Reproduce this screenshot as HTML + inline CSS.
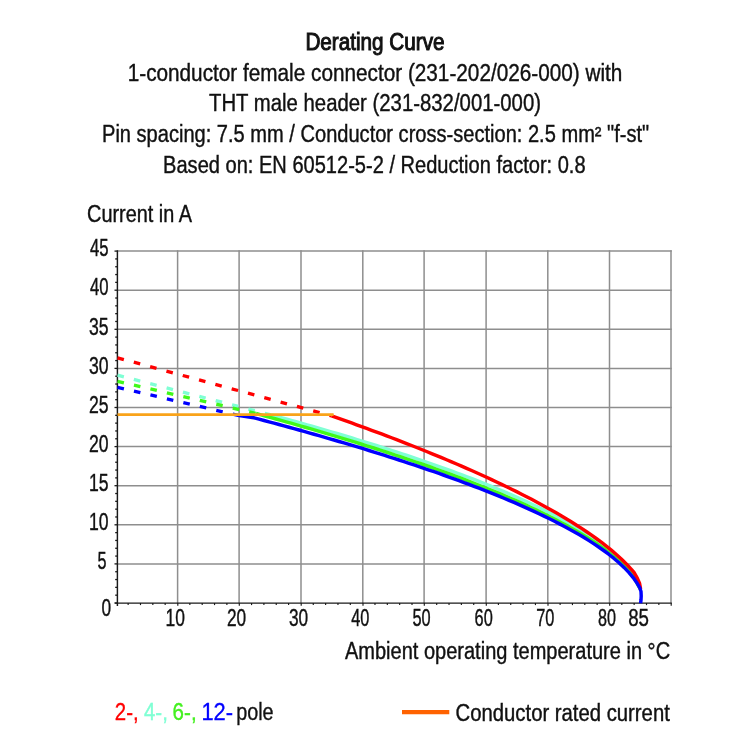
<!DOCTYPE html><html><head><meta charset="utf-8"><style>html,body{margin:0;padding:0;background:#fff;}svg{display:block;will-change:transform;}</style></head><body>
<svg width="750" height="750" viewBox="0 0 750 750" font-family="'Liberation Sans', sans-serif">
<rect width="750" height="750" fill="#fff"/>
<line x1="177.6" y1="250.3" x2="177.6" y2="603" stroke="#8e8e8e" stroke-width="1.5"/>
<line x1="239.1" y1="250.3" x2="239.1" y2="603" stroke="#8e8e8e" stroke-width="1.5"/>
<line x1="301.0" y1="250.3" x2="301.0" y2="603" stroke="#8e8e8e" stroke-width="1.5"/>
<line x1="362.8" y1="250.3" x2="362.8" y2="603" stroke="#8e8e8e" stroke-width="1.5"/>
<line x1="424.1" y1="250.3" x2="424.1" y2="603" stroke="#8e8e8e" stroke-width="1.5"/>
<line x1="486.1" y1="250.3" x2="486.1" y2="603" stroke="#8e8e8e" stroke-width="1.5"/>
<line x1="547.8" y1="250.3" x2="547.8" y2="603" stroke="#8e8e8e" stroke-width="1.5"/>
<line x1="609.5" y1="250.3" x2="609.5" y2="603" stroke="#8e8e8e" stroke-width="1.5"/>
<line x1="671.0" y1="250.3" x2="671.0" y2="603" stroke="#8e8e8e" stroke-width="1.5"/>
<line x1="117.5" y1="563.90" x2="671.75" y2="563.90" stroke="#8e8e8e" stroke-width="1.5"/>
<line x1="117.5" y1="524.80" x2="671.75" y2="524.80" stroke="#8e8e8e" stroke-width="1.5"/>
<line x1="117.5" y1="485.70" x2="671.75" y2="485.70" stroke="#8e8e8e" stroke-width="1.5"/>
<line x1="117.5" y1="446.60" x2="671.75" y2="446.60" stroke="#8e8e8e" stroke-width="1.5"/>
<line x1="117.5" y1="407.50" x2="671.75" y2="407.50" stroke="#8e8e8e" stroke-width="1.5"/>
<line x1="117.5" y1="368.40" x2="671.75" y2="368.40" stroke="#8e8e8e" stroke-width="1.5"/>
<line x1="117.5" y1="329.30" x2="671.75" y2="329.30" stroke="#8e8e8e" stroke-width="1.5"/>
<line x1="117.5" y1="290.20" x2="671.75" y2="290.20" stroke="#8e8e8e" stroke-width="1.5"/>
<line x1="117.5" y1="251.10" x2="671.75" y2="251.10" stroke="#8e8e8e" stroke-width="1.5"/>
<line x1="114.50" y1="603.00" x2="117.5" y2="603.00" stroke="#1a1a1a" stroke-width="1.3"/>
<line x1="115.20" y1="595.18" x2="117.5" y2="595.18" stroke="#1a1a1a" stroke-width="1.3"/>
<line x1="115.20" y1="587.36" x2="117.5" y2="587.36" stroke="#1a1a1a" stroke-width="1.3"/>
<line x1="115.20" y1="579.54" x2="117.5" y2="579.54" stroke="#1a1a1a" stroke-width="1.3"/>
<line x1="115.20" y1="571.72" x2="117.5" y2="571.72" stroke="#1a1a1a" stroke-width="1.3"/>
<line x1="114.50" y1="563.90" x2="117.5" y2="563.90" stroke="#1a1a1a" stroke-width="1.3"/>
<line x1="115.20" y1="556.08" x2="117.5" y2="556.08" stroke="#1a1a1a" stroke-width="1.3"/>
<line x1="115.20" y1="548.26" x2="117.5" y2="548.26" stroke="#1a1a1a" stroke-width="1.3"/>
<line x1="115.20" y1="540.44" x2="117.5" y2="540.44" stroke="#1a1a1a" stroke-width="1.3"/>
<line x1="115.20" y1="532.62" x2="117.5" y2="532.62" stroke="#1a1a1a" stroke-width="1.3"/>
<line x1="114.50" y1="524.80" x2="117.5" y2="524.80" stroke="#1a1a1a" stroke-width="1.3"/>
<line x1="115.20" y1="516.98" x2="117.5" y2="516.98" stroke="#1a1a1a" stroke-width="1.3"/>
<line x1="115.20" y1="509.16" x2="117.5" y2="509.16" stroke="#1a1a1a" stroke-width="1.3"/>
<line x1="115.20" y1="501.34" x2="117.5" y2="501.34" stroke="#1a1a1a" stroke-width="1.3"/>
<line x1="115.20" y1="493.52" x2="117.5" y2="493.52" stroke="#1a1a1a" stroke-width="1.3"/>
<line x1="114.50" y1="485.70" x2="117.5" y2="485.70" stroke="#1a1a1a" stroke-width="1.3"/>
<line x1="115.20" y1="477.88" x2="117.5" y2="477.88" stroke="#1a1a1a" stroke-width="1.3"/>
<line x1="115.20" y1="470.06" x2="117.5" y2="470.06" stroke="#1a1a1a" stroke-width="1.3"/>
<line x1="115.20" y1="462.24" x2="117.5" y2="462.24" stroke="#1a1a1a" stroke-width="1.3"/>
<line x1="115.20" y1="454.42" x2="117.5" y2="454.42" stroke="#1a1a1a" stroke-width="1.3"/>
<line x1="114.50" y1="446.60" x2="117.5" y2="446.60" stroke="#1a1a1a" stroke-width="1.3"/>
<line x1="115.20" y1="438.78" x2="117.5" y2="438.78" stroke="#1a1a1a" stroke-width="1.3"/>
<line x1="115.20" y1="430.96" x2="117.5" y2="430.96" stroke="#1a1a1a" stroke-width="1.3"/>
<line x1="115.20" y1="423.14" x2="117.5" y2="423.14" stroke="#1a1a1a" stroke-width="1.3"/>
<line x1="115.20" y1="415.32" x2="117.5" y2="415.32" stroke="#1a1a1a" stroke-width="1.3"/>
<line x1="114.50" y1="407.50" x2="117.5" y2="407.50" stroke="#1a1a1a" stroke-width="1.3"/>
<line x1="115.20" y1="399.68" x2="117.5" y2="399.68" stroke="#1a1a1a" stroke-width="1.3"/>
<line x1="115.20" y1="391.86" x2="117.5" y2="391.86" stroke="#1a1a1a" stroke-width="1.3"/>
<line x1="115.20" y1="384.04" x2="117.5" y2="384.04" stroke="#1a1a1a" stroke-width="1.3"/>
<line x1="115.20" y1="376.22" x2="117.5" y2="376.22" stroke="#1a1a1a" stroke-width="1.3"/>
<line x1="114.50" y1="368.40" x2="117.5" y2="368.40" stroke="#1a1a1a" stroke-width="1.3"/>
<line x1="115.20" y1="360.58" x2="117.5" y2="360.58" stroke="#1a1a1a" stroke-width="1.3"/>
<line x1="115.20" y1="352.76" x2="117.5" y2="352.76" stroke="#1a1a1a" stroke-width="1.3"/>
<line x1="115.20" y1="344.94" x2="117.5" y2="344.94" stroke="#1a1a1a" stroke-width="1.3"/>
<line x1="115.20" y1="337.12" x2="117.5" y2="337.12" stroke="#1a1a1a" stroke-width="1.3"/>
<line x1="114.50" y1="329.30" x2="117.5" y2="329.30" stroke="#1a1a1a" stroke-width="1.3"/>
<line x1="115.20" y1="321.48" x2="117.5" y2="321.48" stroke="#1a1a1a" stroke-width="1.3"/>
<line x1="115.20" y1="313.66" x2="117.5" y2="313.66" stroke="#1a1a1a" stroke-width="1.3"/>
<line x1="115.20" y1="305.84" x2="117.5" y2="305.84" stroke="#1a1a1a" stroke-width="1.3"/>
<line x1="115.20" y1="298.02" x2="117.5" y2="298.02" stroke="#1a1a1a" stroke-width="1.3"/>
<line x1="114.50" y1="290.20" x2="117.5" y2="290.20" stroke="#1a1a1a" stroke-width="1.3"/>
<line x1="115.20" y1="282.38" x2="117.5" y2="282.38" stroke="#1a1a1a" stroke-width="1.3"/>
<line x1="115.20" y1="274.56" x2="117.5" y2="274.56" stroke="#1a1a1a" stroke-width="1.3"/>
<line x1="115.20" y1="266.74" x2="117.5" y2="266.74" stroke="#1a1a1a" stroke-width="1.3"/>
<line x1="115.20" y1="258.92" x2="117.5" y2="258.92" stroke="#1a1a1a" stroke-width="1.3"/>
<line x1="114.50" y1="251.10" x2="117.5" y2="251.10" stroke="#1a1a1a" stroke-width="1.3"/>
<line x1="128.14" y1="603" x2="128.14" y2="605.10" stroke="#1a1a1a" stroke-width="1.15"/>
<line x1="140.48" y1="603" x2="140.48" y2="605.10" stroke="#1a1a1a" stroke-width="1.15"/>
<line x1="152.83" y1="603" x2="152.83" y2="605.10" stroke="#1a1a1a" stroke-width="1.15"/>
<line x1="165.17" y1="603" x2="165.17" y2="605.10" stroke="#1a1a1a" stroke-width="1.15"/>
<line x1="177.80" y1="603" x2="177.80" y2="605.70" stroke="#1a1a1a" stroke-width="1.15"/>
<line x1="189.85" y1="603" x2="189.85" y2="605.10" stroke="#1a1a1a" stroke-width="1.15"/>
<line x1="202.19" y1="603" x2="202.19" y2="605.10" stroke="#1a1a1a" stroke-width="1.15"/>
<line x1="214.54" y1="603" x2="214.54" y2="605.10" stroke="#1a1a1a" stroke-width="1.15"/>
<line x1="226.88" y1="603" x2="226.88" y2="605.10" stroke="#1a1a1a" stroke-width="1.15"/>
<line x1="239.30" y1="603" x2="239.30" y2="605.70" stroke="#1a1a1a" stroke-width="1.15"/>
<line x1="251.56" y1="603" x2="251.56" y2="605.10" stroke="#1a1a1a" stroke-width="1.15"/>
<line x1="263.90" y1="603" x2="263.90" y2="605.10" stroke="#1a1a1a" stroke-width="1.15"/>
<line x1="276.25" y1="603" x2="276.25" y2="605.10" stroke="#1a1a1a" stroke-width="1.15"/>
<line x1="288.59" y1="603" x2="288.59" y2="605.10" stroke="#1a1a1a" stroke-width="1.15"/>
<line x1="301.20" y1="603" x2="301.20" y2="605.70" stroke="#1a1a1a" stroke-width="1.15"/>
<line x1="313.27" y1="603" x2="313.27" y2="605.10" stroke="#1a1a1a" stroke-width="1.15"/>
<line x1="325.61" y1="603" x2="325.61" y2="605.10" stroke="#1a1a1a" stroke-width="1.15"/>
<line x1="337.96" y1="603" x2="337.96" y2="605.10" stroke="#1a1a1a" stroke-width="1.15"/>
<line x1="350.30" y1="603" x2="350.30" y2="605.10" stroke="#1a1a1a" stroke-width="1.15"/>
<line x1="363.00" y1="603" x2="363.00" y2="605.70" stroke="#1a1a1a" stroke-width="1.15"/>
<line x1="374.98" y1="603" x2="374.98" y2="605.10" stroke="#1a1a1a" stroke-width="1.15"/>
<line x1="387.32" y1="603" x2="387.32" y2="605.10" stroke="#1a1a1a" stroke-width="1.15"/>
<line x1="399.67" y1="603" x2="399.67" y2="605.10" stroke="#1a1a1a" stroke-width="1.15"/>
<line x1="412.01" y1="603" x2="412.01" y2="605.10" stroke="#1a1a1a" stroke-width="1.15"/>
<line x1="424.30" y1="603" x2="424.30" y2="605.70" stroke="#1a1a1a" stroke-width="1.15"/>
<line x1="436.69" y1="603" x2="436.69" y2="605.10" stroke="#1a1a1a" stroke-width="1.15"/>
<line x1="449.03" y1="603" x2="449.03" y2="605.10" stroke="#1a1a1a" stroke-width="1.15"/>
<line x1="461.38" y1="603" x2="461.38" y2="605.10" stroke="#1a1a1a" stroke-width="1.15"/>
<line x1="473.72" y1="603" x2="473.72" y2="605.10" stroke="#1a1a1a" stroke-width="1.15"/>
<line x1="486.30" y1="603" x2="486.30" y2="605.70" stroke="#1a1a1a" stroke-width="1.15"/>
<line x1="498.40" y1="603" x2="498.40" y2="605.10" stroke="#1a1a1a" stroke-width="1.15"/>
<line x1="510.74" y1="603" x2="510.74" y2="605.10" stroke="#1a1a1a" stroke-width="1.15"/>
<line x1="523.09" y1="603" x2="523.09" y2="605.10" stroke="#1a1a1a" stroke-width="1.15"/>
<line x1="535.43" y1="603" x2="535.43" y2="605.10" stroke="#1a1a1a" stroke-width="1.15"/>
<line x1="548.00" y1="603" x2="548.00" y2="605.70" stroke="#1a1a1a" stroke-width="1.15"/>
<line x1="560.11" y1="603" x2="560.11" y2="605.10" stroke="#1a1a1a" stroke-width="1.15"/>
<line x1="572.45" y1="603" x2="572.45" y2="605.10" stroke="#1a1a1a" stroke-width="1.15"/>
<line x1="584.80" y1="603" x2="584.80" y2="605.10" stroke="#1a1a1a" stroke-width="1.15"/>
<line x1="597.14" y1="603" x2="597.14" y2="605.10" stroke="#1a1a1a" stroke-width="1.15"/>
<line x1="609.70" y1="603" x2="609.70" y2="605.70" stroke="#1a1a1a" stroke-width="1.15"/>
<line x1="621.82" y1="603" x2="621.82" y2="605.10" stroke="#1a1a1a" stroke-width="1.15"/>
<line x1="634.16" y1="603" x2="634.16" y2="605.10" stroke="#1a1a1a" stroke-width="1.15"/>
<line x1="646.51" y1="603" x2="646.51" y2="605.10" stroke="#1a1a1a" stroke-width="1.15"/>
<line x1="658.85" y1="603" x2="658.85" y2="605.10" stroke="#1a1a1a" stroke-width="1.15"/>
<line x1="671.20" y1="603" x2="671.20" y2="605.70" stroke="#1a1a1a" stroke-width="1.15"/>
<line x1="117.4" y1="250.3" x2="117.4" y2="606" stroke="#1a1a1a" stroke-width="1.45"/>
<line x1="114.8" y1="603.1" x2="671.75" y2="603.1" stroke="#1a1a1a" stroke-width="1.45"/>
<line x1="117.5" y1="375.2" x2="272" y2="415.14" stroke="#80FFD4" stroke-width="3.35" stroke-dasharray="6.6 10.3" stroke-dashoffset="0" stroke-linecap="butt"/>
<line x1="117.5" y1="381.3" x2="256" y2="413.48" stroke="#40F81A" stroke-width="3.35" stroke-dasharray="6.6 10.3" stroke-dashoffset="0" stroke-linecap="butt"/>
<line x1="117.5" y1="357.8" x2="331.6" y2="415.87" stroke="#FF0000" stroke-width="3.35" stroke-dasharray="6.6 10.3" stroke-dashoffset="0" stroke-linecap="butt"/>
<line x1="117.5" y1="387.3" x2="239.2" y2="415.6" stroke="#0000FF" stroke-width="3.35" stroke-dasharray="6.6 10.3" stroke-dashoffset="0" stroke-linecap="butt"/>
<polyline points="272,415.14 277,416.5 282,417.86 287,419.24 292,420.62 297,422.02 302,423.42 307,424.83 312,426.25 317,427.68 322,429.13 327,430.58 332,432.04 337,433.52 342,435.0 347,436.5 352,438.01 357,439.53 362,441.06 367,442.6 372,444.16 377,445.73 382,447.32 387,448.92 392,450.53 397,452.16 402,453.8 407,455.46 412,457.14 417,458.83 422,460.54 427,462.27 432,464.01 437,465.78 442,467.56 447,469.37 452,471.19 457,473.04 462,474.91 467,476.81 472,478.73 477,480.67 482,482.64 487,484.65 492,486.68 497,488.74 502,490.83 507,492.96 512,495.13 517,497.33 522,499.57 527,501.86 532,504.19 537,506.57 542,509.0 547,511.48 552,514.03 557,516.64 562,519.32 567,522.08 572,524.92 577,527.85 582,530.88 587,534.03 592,537.3 597,540.73 602,544.32 607,548.12 612,552.15 617,556.48 622,561.19 627,566.42 632,572.38 634,575.06 638,585 640.3,589" fill="none" stroke="#80FFD4" stroke-width="3.45" stroke-linejoin="round" stroke-linecap="butt"/>
<polyline points="256,413.48 261,414.85 266,416.22 271,417.6 276,418.99 281,420.39 286,421.79 291,423.21 296,424.63 301,426.06 306,427.5 311,428.95 316,430.41 321,431.88 326,433.36 331,434.85 336,436.35 341,437.86 346,439.38 351,440.92 356,442.46 361,444.02 366,445.59 371,447.17 376,448.76 381,450.37 386,451.99 391,453.63 396,455.27 401,456.94 406,458.62 411,460.31 416,462.02 421,463.75 426,465.49 431,467.25 436,469.03 441,470.83 446,472.65 451,474.49 456,476.34 461,478.23 466,480.13 471,482.06 476,484.01 481,485.99 486,487.99 491,490.02 496,492.08 501,494.17 506,496.3 511,498.46 516,500.65 521,502.88 526,505.15 531,507.47 536,509.83 541,512.23 546,514.69 551,517.21 556,519.78 561,522.42 566,525.13 571,527.91 576,530.78 581,533.74 586,536.8 591,539.98 596,543.3 601,546.76 606,550.41 611,554.26 616,558.37 621,562.8 626,567.66 631,573.12 634,576.81 637.5,584 640.2,589" fill="none" stroke="#40F81A" stroke-width="3.45" stroke-linejoin="round" stroke-linecap="butt"/>
<polyline points="331.6,415.87 336.6,417.62 341.6,419.39 346.6,421.17 351.6,422.96 356.6,424.77 361.6,426.58 366.6,428.41 371.6,430.26 376.6,432.11 381.6,433.98 386.6,435.87 391.6,437.76 396.6,439.68 401.6,441.61 406.6,443.55 411.6,445.51 416.6,447.49 421.6,449.49 426.6,451.5 431.6,453.53 436.6,455.58 441.6,457.66 446.6,459.75 451.6,461.86 456.6,463.99 461.6,466.15 466.6,468.33 471.6,470.53 476.6,472.76 481.6,475.02 486.6,477.3 491.6,479.62 496.6,481.96 501.6,484.33 506.6,486.74 511.6,489.18 516.6,491.66 521.6,494.17 526.6,496.73 531.6,499.33 536.6,501.97 541.6,504.67 546.6,507.41 551.6,510.21 556.6,513.07 561.6,515.99 566.6,518.98 571.6,522.04 576.6,525.19 581.6,528.42 586.6,531.75 591.6,535.2 596.6,538.77 601.6,542.47 606.6,546.35 611.6,550.41 616.6,554.69 621.6,559.26 626.6,564.18 631.6,569.56 634,572.37 637.4,578.4 639.6,583.5 640.6,589" fill="none" stroke="#FF0000" stroke-width="3.45" stroke-linejoin="round" stroke-linecap="butt"/>
<polyline points="239.2,415.6 249,417.0 254,417.81 259,419.13 264,420.47 269,421.81 274,423.15 279,424.51 284,425.87 289,427.25 294,428.63 299,430.02 304,431.41 309,432.82 314,434.24 319,435.67 324,437.1 329,438.55 334,440.01 339,441.47 344,442.95 349,444.44 354,445.94 359,447.45 364,448.97 369,450.51 374,452.06 379,453.62 384,455.19 389,456.78 394,458.38 399,460.0 404,461.63 409,463.27 414,464.93 419,466.61 424,468.3 429,470.01 434,471.74 439,473.49 444,475.25 449,477.04 454,478.85 459,480.67 464,482.52 469,484.39 474,486.29 479,488.21 484,490.16 489,492.13 494,494.13 499,496.17 504,498.23 509,500.33 514,502.46 519,504.63 524,506.83 529,509.08 534,511.37 539,513.71 544,516.1 549,518.54 554,521.04 559,523.6 564,526.23 569,528.93 574,531.72 579,534.59 584,537.57 589,540.65 594,543.86 599,547.22 604,550.75 609,554.48 614,558.45 619,562.73 624,567.41 629,572.64 634,578.72 636.6,582.41 639.8,587.9 641,591.5 641.2,596 641,600 640.6,603.3" fill="none" stroke="#0000FF" stroke-width="3.45" stroke-linejoin="round" stroke-linecap="butt"/>
<line x1="117.5" y1="414.65" x2="333.6" y2="414.65" stroke="#F9A31A" stroke-width="2.6"/>
<text x="305.40" y="50.0" font-size="23" font-weight="normal" fill="#111" stroke="#111" stroke-width="1.0" textLength="139.20" lengthAdjust="spacingAndGlyphs">Derating Curve</text>
<text x="127.70" y="80.8" font-size="23" font-weight="normal" fill="#111" stroke="#111" stroke-width="0.4" textLength="494.70" lengthAdjust="spacingAndGlyphs">1-conductor female connector (231-202/026-000) with</text>
<text x="209.00" y="111.0" font-size="23" font-weight="normal" fill="#111" stroke="#111" stroke-width="0.4" textLength="332.00" lengthAdjust="spacingAndGlyphs">THT male header (231-832/001-000)</text>
<text x="102.00" y="142.2" font-size="23" font-weight="normal" fill="#111" stroke="#111" stroke-width="0.4" textLength="547.20" lengthAdjust="spacingAndGlyphs">Pin spacing: 7.5 mm / Conductor cross-section: 2.5 mm² "f-st"</text>
<text x="163.10" y="172.5" font-size="23" font-weight="normal" fill="#111" stroke="#111" stroke-width="0.4" textLength="422.50" lengthAdjust="spacingAndGlyphs">Based on: EN 60512-5-2 / Reduction factor: 0.8</text>
<text x="87.10" y="222.1" font-size="23" font-weight="normal" fill="#111" stroke="#111" stroke-width="0.4" textLength="104.90" lengthAdjust="spacingAndGlyphs">Current in A</text>
<text x="344.90" y="658.7" font-size="23" font-weight="normal" fill="#111" stroke="#111" stroke-width="0.4" textLength="325.20" lengthAdjust="spacingAndGlyphs">Ambient operating temperature in °C</text>
<text x="455.60" y="720.5" font-size="23" font-weight="normal" fill="#111" stroke="#111" stroke-width="0.4" textLength="214.20" lengthAdjust="spacingAndGlyphs">Conductor rated current</text>
<text x="97.40" y="569.10" font-size="23" fill="#111" stroke="#111" stroke-width="0.4" textLength="9.00" lengthAdjust="spacingAndGlyphs">5</text>
<text x="89.00" y="530.00" font-size="23" fill="#111" stroke="#111" stroke-width="0.4" textLength="19.60" lengthAdjust="spacingAndGlyphs">10</text>
<text x="89.00" y="490.90" font-size="23" fill="#111" stroke="#111" stroke-width="0.4" textLength="19.60" lengthAdjust="spacingAndGlyphs">15</text>
<text x="89.00" y="451.80" font-size="23" fill="#111" stroke="#111" stroke-width="0.4" textLength="19.60" lengthAdjust="spacingAndGlyphs">20</text>
<text x="89.00" y="412.70" font-size="23" fill="#111" stroke="#111" stroke-width="0.4" textLength="19.60" lengthAdjust="spacingAndGlyphs">25</text>
<text x="89.00" y="373.60" font-size="23" fill="#111" stroke="#111" stroke-width="0.4" textLength="19.60" lengthAdjust="spacingAndGlyphs">30</text>
<text x="89.00" y="334.50" font-size="23" fill="#111" stroke="#111" stroke-width="0.4" textLength="19.60" lengthAdjust="spacingAndGlyphs">35</text>
<text x="90.00" y="295.40" font-size="23" fill="#111" stroke="#111" stroke-width="0.4" textLength="18.60" lengthAdjust="spacingAndGlyphs">40</text>
<text x="90.00" y="256.30" font-size="23" fill="#111" stroke="#111" stroke-width="0.4" textLength="18.60" lengthAdjust="spacingAndGlyphs">45</text>
<text x="101.60" y="615.90" font-size="23" fill="#111" stroke="#111" stroke-width="0.4" textLength="9.60" lengthAdjust="spacingAndGlyphs">0</text>
<text x="165.60" y="625.70" font-size="23" fill="#111" stroke="#111" stroke-width="0.4" textLength="19.40" lengthAdjust="spacingAndGlyphs">10</text>
<text x="227.00" y="625.70" font-size="23" fill="#111" stroke="#111" stroke-width="0.4" textLength="19.20" lengthAdjust="spacingAndGlyphs">20</text>
<text x="289.00" y="625.70" font-size="23" fill="#111" stroke="#111" stroke-width="0.4" textLength="19.20" lengthAdjust="spacingAndGlyphs">30</text>
<text x="351.20" y="625.70" font-size="23" fill="#111" stroke="#111" stroke-width="0.4" textLength="18.20" lengthAdjust="spacingAndGlyphs">40</text>
<text x="412.40" y="625.70" font-size="23" fill="#111" stroke="#111" stroke-width="0.4" textLength="18.20" lengthAdjust="spacingAndGlyphs">50</text>
<text x="474.60" y="625.70" font-size="23" fill="#111" stroke="#111" stroke-width="0.4" textLength="18.20" lengthAdjust="spacingAndGlyphs">60</text>
<text x="536.20" y="625.70" font-size="23" fill="#111" stroke="#111" stroke-width="0.4" textLength="18.20" lengthAdjust="spacingAndGlyphs">70</text>
<text x="598.00" y="625.70" font-size="23" fill="#111" stroke="#111" stroke-width="0.4" textLength="18.00" lengthAdjust="spacingAndGlyphs">80</text>
<text x="628.20" y="625.70" font-size="23" fill="#111" stroke="#111" stroke-width="0.4" textLength="20.80" lengthAdjust="spacingAndGlyphs">85</text>
<text x="114.80" y="719.6" font-size="23" fill="#FF0000" stroke="#FF0000" stroke-width="0.35" textLength="23.80" lengthAdjust="spacingAndGlyphs">2-,</text>
<text x="144.00" y="719.6" font-size="23" fill="#80FFD4" stroke="#80FFD4" stroke-width="0.35" textLength="23.80" lengthAdjust="spacingAndGlyphs">4-,</text>
<text x="172.60" y="719.6" font-size="23" fill="#44F020" stroke="#44F020" stroke-width="0.35" textLength="24.00" lengthAdjust="spacingAndGlyphs">6-,</text>
<text x="201.40" y="719.6" font-size="23" fill="#0000FF" stroke="#0000FF" stroke-width="0.35" textLength="31.60" lengthAdjust="spacingAndGlyphs">12-</text>
<text x="236.20" y="719.6" font-size="23" fill="#111111" stroke="#111111" stroke-width="0.35" textLength="37.40" lengthAdjust="spacingAndGlyphs">pole</text>
<line x1="402" y1="712.05" x2="449.3" y2="712.05" stroke="#FF6200" stroke-width="4.3"/>
</svg></body></html>
